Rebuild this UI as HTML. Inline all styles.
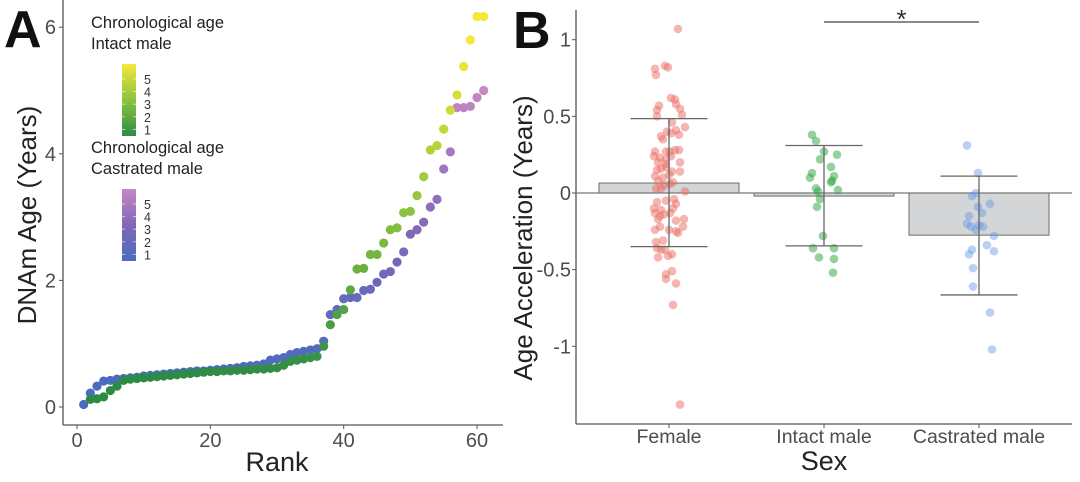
<!DOCTYPE html>
<html><head><meta charset="utf-8">
<style>
html,body{margin:0;padding:0;background:#fff;}
svg{display:block;font-family:"Liberation Sans",Arial,sans-serif;}
</style></head>
<body>
<svg id="fig" width="1080" height="482" viewBox="0 0 1080 482" xmlns="http://www.w3.org/2000/svg">
<defs>
<linearGradient id="gInt" x1="0" y1="1" x2="0" y2="0">
<stop offset="0" stop-color="#2e8b46"/><stop offset="0.5" stop-color="#8cc43f"/><stop offset="1" stop-color="#f5e839"/>
</linearGradient>
<linearGradient id="gCas" x1="0" y1="1" x2="0" y2="0">
<stop offset="0" stop-color="#4a6cbf"/><stop offset="0.5" stop-color="#7f68b8"/><stop offset="1" stop-color="#c688c2"/>
</linearGradient>
</defs>
<g id="panelA"></g>
<g id="panelB"></g>
</svg>
<script>
// ---------- Panel A data ----------
const rankTicks = [0, 20, 40, 60];
const ageTicks = [0, 2, 4, 6];
const intactRanks = [2,3,4,5,6,7,8,9,10,11,12,13,14,15,16,17,18,19,20,21,22,23,24,25,26,27,28,29,30,31,32,33,34,35,36,37,38,39,40,41,42,43,44,45,46,47,48,49,50,51,52,53,54,55,56,57,58,59,60,61];
const intactDNAm = [0.12,0.13,0.16,0.26,0.33,0.42,0.44,0.45,0.46,0.47,0.48,0.49,0.50,0.51,0.52,0.53,0.54,0.55,0.56,0.56,0.57,0.57,0.58,0.58,0.59,0.60,0.60,0.61,0.62,0.66,0.72,0.74,0.76,0.78,0.80,0.96,1.30,1.46,1.54,1.85,2.18,2.19,2.41,2.41,2.59,2.80,2.83,3.07,3.09,3.34,3.64,4.06,4.13,4.39,4.69,4.93,5.38,5.80,6.17,6.17];
const castRanks = [1,2,3,4,5,6,7,8,9,10,11,12,13,14,15,16,17,18,19,20,21,22,23,24,25,26,27,28,29,30,31,32,33,34,35,36,37,38,39,40,41,42,43,44,45,46,47,48,49,50,51,52,53,54,55,56,57,58,59,60,61];
const castDNAm = [0.04,0.22,0.33,0.41,0.42,0.44,0.45,0.46,0.47,0.49,0.50,0.51,0.52,0.53,0.54,0.55,0.56,0.57,0.57,0.58,0.59,0.60,0.61,0.62,0.64,0.65,0.66,0.68,0.74,0.76,0.78,0.83,0.86,0.88,0.90,0.92,1.04,1.46,1.54,1.71,1.73,1.73,1.84,1.86,1.97,2.10,2.14,2.29,2.45,2.73,2.80,2.92,3.16,3.28,3.76,4.03,4.73,4.73,4.75,4.89,5.00];

// ---------- Panel B data ----------
const groups = ["Female", "Intact male", "Castrated male"];
const groupMeans = [0.065, -0.02, -0.275];
const errUpper = [0.485, 0.31, 0.11];
const errLower = [-0.35, -0.345, -0.665];
const accTicks = [1, 0.5, 0, -0.5, -1];
const accTickLabels = ["1", "0.5", "0", "-0.5", "-1"];
const femaleVals = [1.07,0.81,0.83,0.82,0.77,0.62,0.61,0.58,0.57,0.54,0.55,0.51,0.50,0.46,0.43,0.41,0.40,0.39,0.38,0.37,0.35,0.27,0.27,0.27,0.28,0.28,0.24,0.23,0.22,0.24,0.20,0.19,0.20,0.16,0.17,0.15,0.14,0.14,0.11,0.10,0.12,0.08,0.07,0.05,0.06,0.03,0.03,0.01,-0.06,-0.05,-0.04,-0.07,-0.10,-0.11,-0.10,-0.13,-0.15,-0.14,-0.13,-0.17,-0.18,-0.17,-0.22,-0.22,-0.24,-0.24,-0.26,-0.25,-0.31,-0.32,-0.36,-0.37,-0.37,-0.40,-0.41,-0.42,-0.51,-0.53,-0.56,-0.59,-0.73,-1.38];
const femaleJit = [9,-14,-4,-1,-13,2,6,7,-10,-12,11,13,-12,3,16,7,-2,2,10,-8,-6,-14,-3,1,6,10,-15,-9,-3,2,-11,-3,11,-8,-3,-12,3,11,-14,-6,0,-11,4,-5,1,-13,-8,16,-12,-3,5,7,-15,-8,4,-14,-9,-5,1,-11,7,15,14,-9,0,-14,9,7,-6,-13,-12,-8,-4,3,-1,-11,3,-3,-3,7,4,11];
const intactVals = [0.38,0.34,0.27,0.25,0.22,0.17,0.13,0.10,0.11,0.07,0.08,0.02,0.03,0.01,-0.04,-0.09,-0.28,-0.36,-0.36,-0.42,-0.43,-0.52];
const intactJit = [-12,-8,0,13,-4,7,-12,-14,10,7,8,14,-8,-6,-4,-7,-1,-11,10,-5,10,9];
const castVals = [0.31,0.13,0.00,-0.02,-0.07,-0.09,-0.13,-0.15,-0.20,-0.22,-0.21,-0.22,-0.24,-0.28,-0.34,-0.37,-0.40,-0.38,-0.49,-0.61,-0.78,-1.02];
const castJit = [-12,-1,-3,-7,11,-1,3,-10,-12,-8,0,4,-3,15,8,-7,-10,15,-6,-6,11,13];

const NS = "http://www.w3.org/2000/svg";
function mk(parent, tag, attrs, text) {
  const e = document.createElementNS(NS, tag);
  for (const k in attrs) e.setAttribute(k, attrs[k]);
  if (text !== undefined) e.textContent = text;
  parent.appendChild(e);
  return e;
}
const AX = "#555", TXT = "#4d4d4d";

// ---------- Panel A ----------
const A = document.getElementById('panelA');
const xA = r => 77 + r * 6.667;
const yA = v => 407 - v * 63.3;
function lerp(a, b, t) { return a.map((c, i) => Math.round(c + (b[i] - c) * t)); }
function ramp(stops, t) {
  t = Math.max(0, Math.min(1, t));
  if (t < 0.5) return lerp(stops[0], stops[1], t * 2);
  return lerp(stops[1], stops[2], (t - 0.5) * 2);
}
const intStops = [[46,139,70],[140,196,63],[245,232,57]];
const casStops = [[74,108,191],[127,104,184],[198,136,194]];

let t = mk(A, 'text', {x: 4, y: 47, 'font-size': 52, 'font-weight': 'bold', fill: '#111'}, 'A');
 
let l = mk(A, 'line', {x1: 63, y1: 0, x2: 63, y2: 425, stroke: AX, 'stroke-width': 1.3});
 
l = mk(A, 'line', {x1: 63, y1: 425, x2: 503, y2: 425, stroke: AX, 'stroke-width': 1.3});
 
ageTicks.forEach(v => {
  const tk = mk(A, 'line', {x1: 59, y1: yA(v), x2: 63, y2: yA(v), stroke: AX});
   
  const tl = mk(A, 'text', {x: 56, y: yA(v) + 7, 'font-size': 20, fill: TXT, 'text-anchor': 'end'}, String(v));
   
});
rankTicks.forEach(r => {
  const tk = mk(A, 'line', {x1: xA(r), y1: 425, x2: xA(r), y2: 429, stroke: AX});
   
  const tl = mk(A, 'text', {x: xA(r), y: 447, 'font-size': 20, fill: TXT, 'text-anchor': 'middle'}, String(r));
   
});
t = mk(A, 'text', {x: 277, y: 471, 'font-size': 27, fill: '#222', 'text-anchor': 'middle'}, 'Rank');
 
t = mk(A, 'text', {x: 0, y: 0, 'font-size': 26, fill: '#222', 'text-anchor': 'middle', transform: 'translate(36,215) rotate(-90)'}, 'DNAm Age (Years)');
 

castRanks.forEach((r, i) => {
  const c = mk(A, 'circle', {cx: xA(r), cy: yA(castDNAm[i]), r: 4.6, fill: 'rgb(' + ramp(casStops, (castDNAm[i] - 0.5) / 4.5).join(',') + ')'});
   
});
intactRanks.forEach((r, i) => {
  const c = mk(A, 'circle', {cx: xA(r), cy: yA(intactDNAm[i]), r: 4.6, fill: 'rgb(' + ramp(intStops, (intactDNAm[i] - 0.5) / 5.2).join(',') + ')'});
   
});

function legend(y0, title2, grad, name) {
  const g = mk(A, 'g', {});
   
  mk(g, 'text', {x: 91, y: y0, 'font-size': 16.5, fill: '#222'}, 'Chronological age');
  mk(g, 'text', {x: 91, y: y0 + 21, 'font-size': 16.5, fill: '#222'}, title2);
  mk(g, 'rect', {x: 122, y: y0 + 36, width: 14, height: 72, fill: 'url(#' + grad + ')'});
  ['5','4','3','2','1'].forEach((s, i) => {
    mk(g, 'text', {x: 144, y: y0 + 56 + i * 12.6, 'font-size': 12.5, fill: '#333'}, s);
    mk(g, 'line', {x1: 122, x2: 125, y1: y0 + 51 + i * 12.6, y2: y0 + 51 + i * 12.6, stroke: '#fff', 'stroke-opacity': 0.6});
    mk(g, 'line', {x1: 133, x2: 136, y1: y0 + 51 + i * 12.6, y2: y0 + 51 + i * 12.6, stroke: '#fff', 'stroke-opacity': 0.6});
  });
}
legend(28, 'Intact male', 'gInt', 'legend-intact');
legend(153, 'Castrated male', 'gCas', 'legend-castrated');

// ---------- Panel B ----------
const B = document.getElementById('panelB');
const yB = v => 193 - v * 153.3;
const centers = [669, 824, 979];
const barW = 140, capW = 77;
const ptCols = ['rgba(235,110,100,0.5)', 'rgba(40,165,60,0.5)', 'rgba(100,150,230,0.45)'];

t = mk(B, 'text', {x: 513, y: 48, 'font-size': 52, 'font-weight': 'bold', fill: '#111'}, 'B');
 
l = mk(B, 'line', {x1: 576, y1: 10, x2: 576, y2: 424, stroke: AX, 'stroke-width': 1.3});
 
l = mk(B, 'line', {x1: 576, y1: 424, x2: 1072, y2: 424, stroke: AX, 'stroke-width': 1.3});
 
accTicks.forEach((v, i) => {
  const tk = mk(B, 'line', {x1: 572, y1: yB(v), x2: 576, y2: yB(v), stroke: AX});
   
  const tl = mk(B, 'text', {x: 571, y: yB(v) + 7, 'font-size': 20, fill: TXT, 'text-anchor': 'end'}, accTickLabels[i]);
   
});
t = mk(B, 'text', {x: 0, y: 0, 'font-size': 26, fill: '#222', 'text-anchor': 'middle', transform: 'translate(532,238) rotate(-90)'}, 'Age Acceleration (Years)');
 

groups.forEach((g, i) => {
  const m = groupMeans[i];
  const bar = mk(B, 'rect', {x: centers[i] - barW / 2, y: Math.min(yB(m), yB(0)), width: barW, height: Math.max(Math.abs(yB(m) - yB(0)), 1.5), fill: '#d4d5d7', stroke: '#6b6b6b', 'stroke-width': 1});
   
  const tk = mk(B, 'line', {x1: centers[i], y1: 424, x2: centers[i], y2: 428, stroke: AX});
   
  const tl = mk(B, 'text', {x: centers[i], y: 443, 'font-size': 19.5, fill: TXT, 'text-anchor': 'middle'}, g);
   
});
l = mk(B, 'line', {x1: 576, y1: yB(0), x2: 1072, y2: yB(0), stroke: '#777', 'stroke-width': 1.2});
 

const valsets = [femaleVals, intactVals, castVals];
const jitsets = [femaleJit, intactJit, castJit];
valsets.forEach((vs, gi) => {
  vs.forEach((v, k) => {
    const c = mk(B, 'circle', {cx: centers[gi] + jitsets[gi][k], cy: yB(v), r: 4.3, fill: ptCols[gi]});
     
  });
});
groups.forEach((g, i) => {
  const eg = mk(B, 'g', {stroke: '#666', 'stroke-width': 1.3});
   
  mk(eg, 'line', {x1: centers[i], y1: yB(errUpper[i]), x2: centers[i], y2: yB(errLower[i])});
  mk(eg, 'line', {x1: centers[i] - capW / 2, y1: yB(errUpper[i]), x2: centers[i] + capW / 2, y2: yB(errUpper[i])});
  mk(eg, 'line', {x1: centers[i] - capW / 2, y1: yB(errLower[i]), x2: centers[i] + capW / 2, y2: yB(errLower[i])});
});
l = mk(B, 'line', {x1: centers[1], y1: 22, x2: centers[2], y2: 22, stroke: '#444', 'stroke-width': 1.3});
 
t = mk(B, 'text', {x: (centers[1] + centers[2]) / 2, y: 28, 'font-size': 26, fill: '#333', 'text-anchor': 'middle'}, '*');
 
t = mk(B, 'text', {x: 824, y: 470, 'font-size': 27, fill: '#222', 'text-anchor': 'middle'}, 'Sex');
 
</script>
</body></html>
